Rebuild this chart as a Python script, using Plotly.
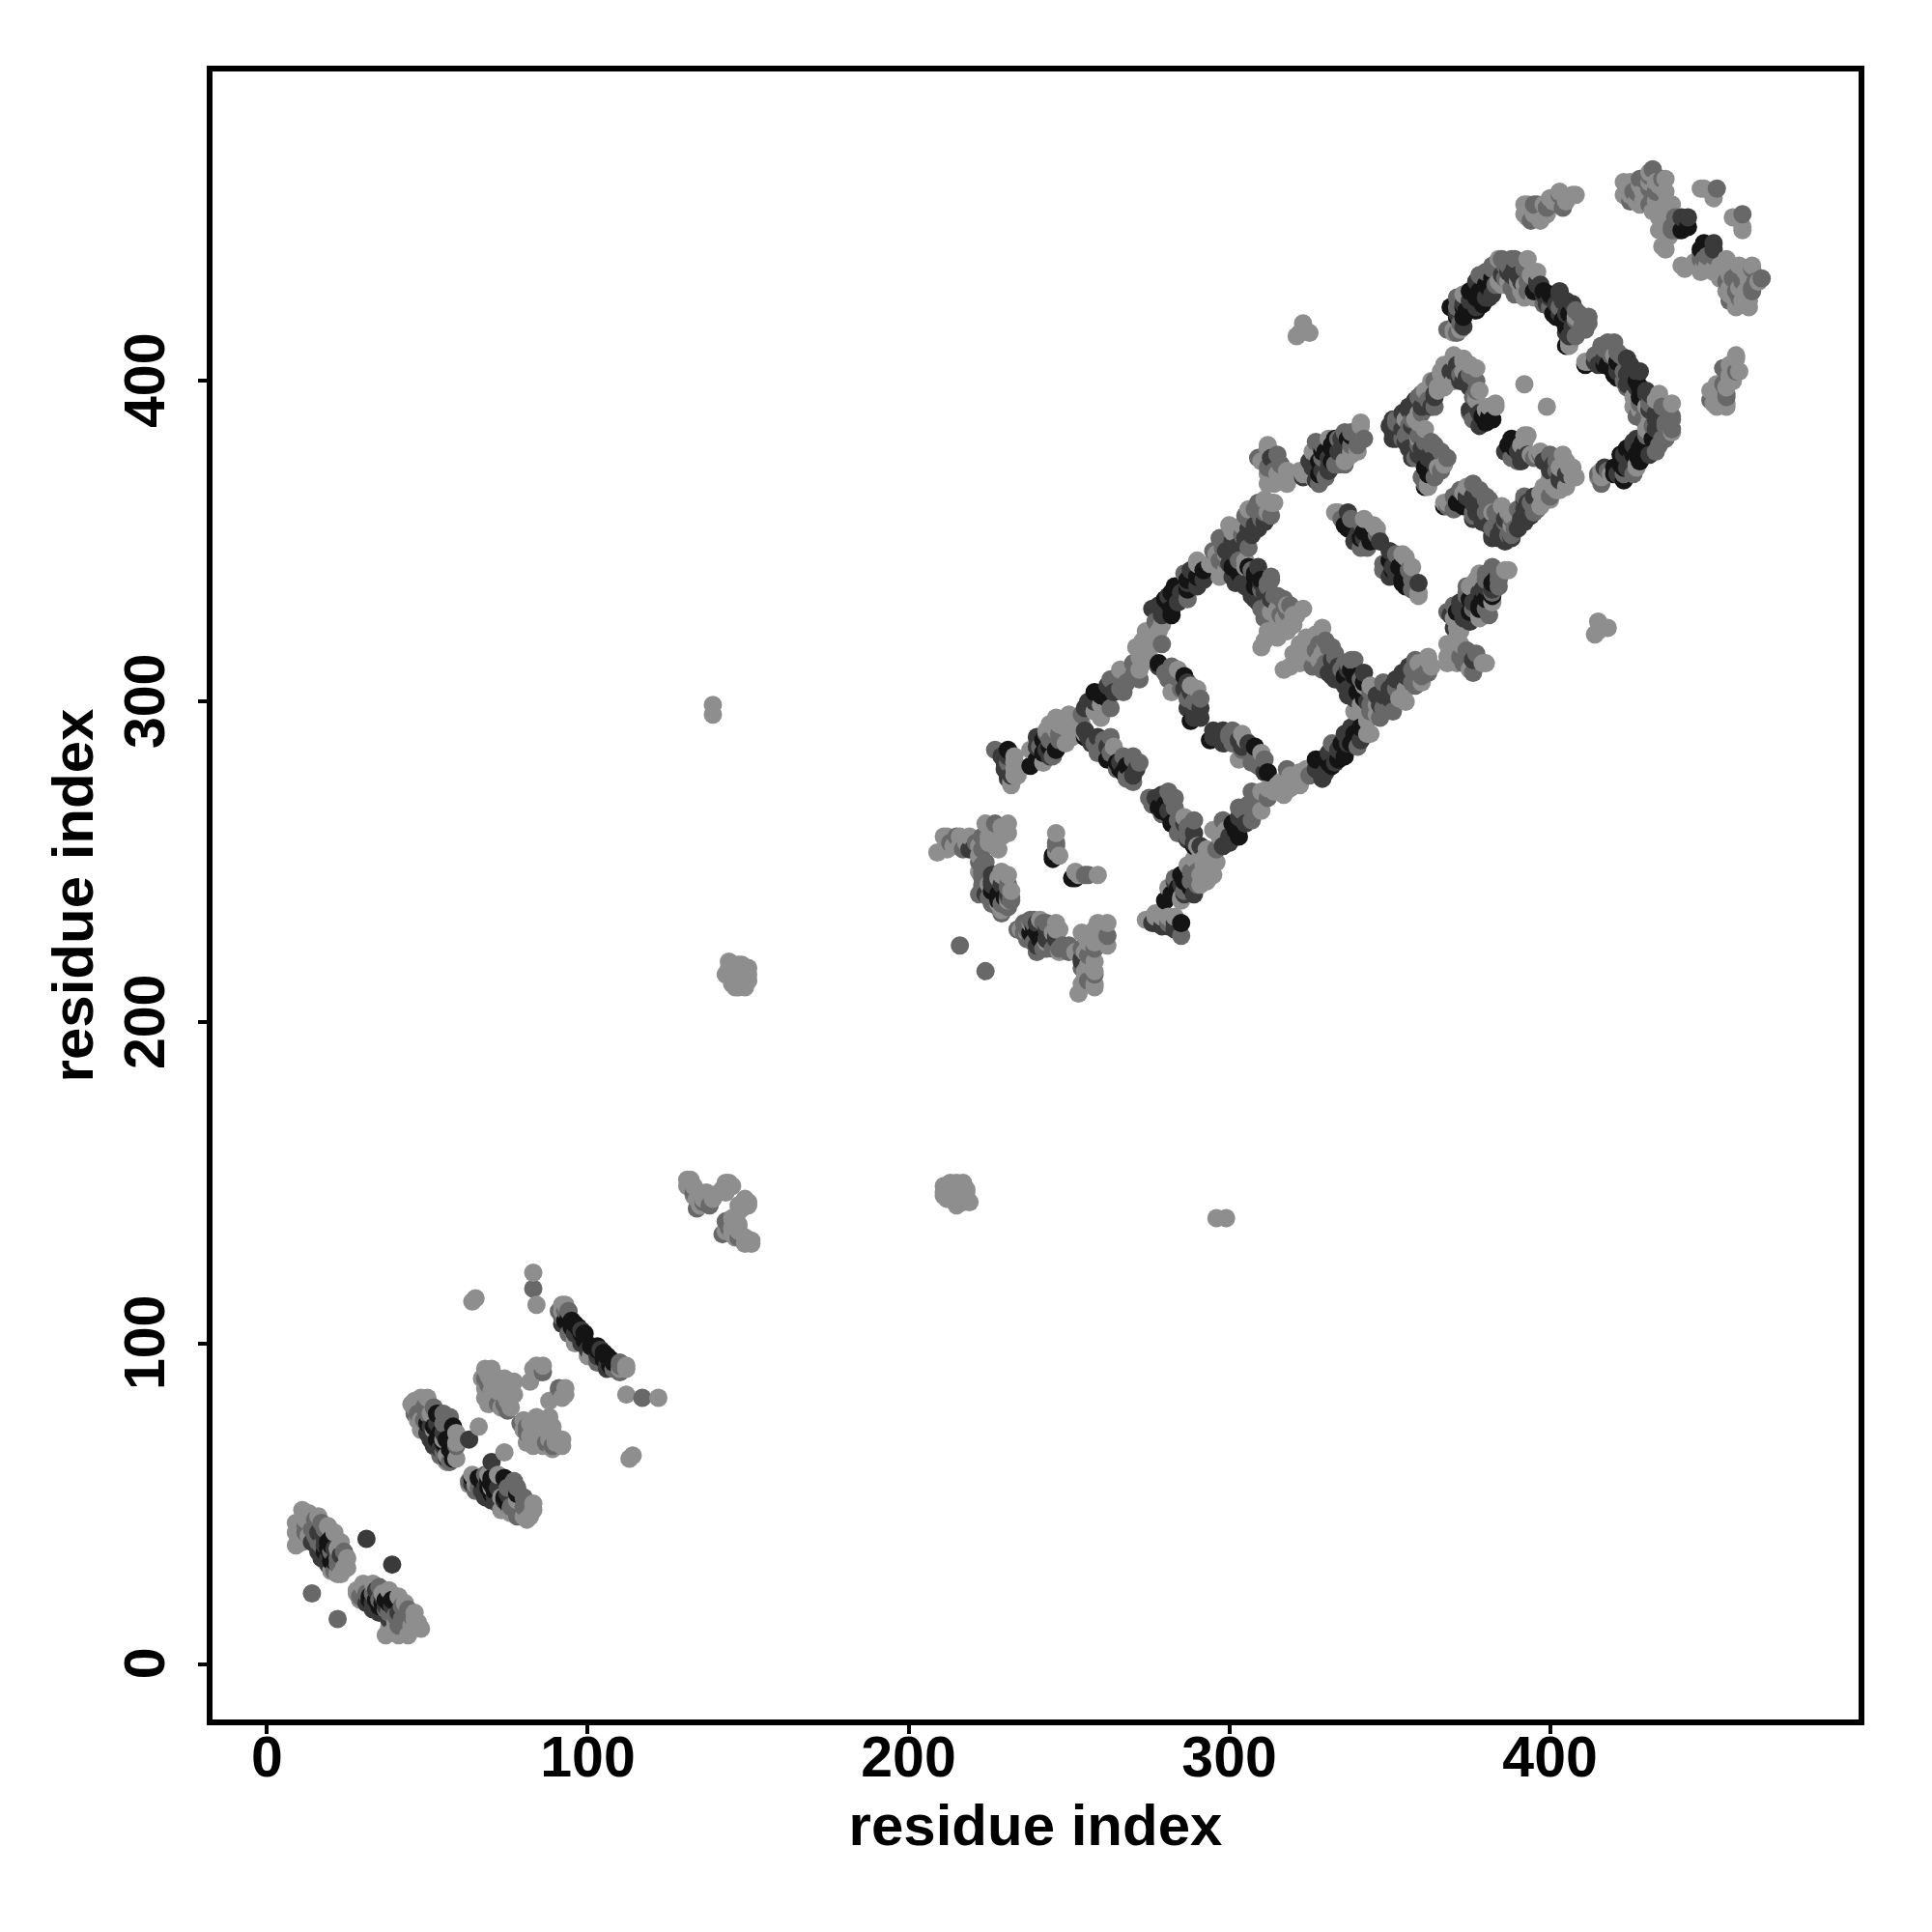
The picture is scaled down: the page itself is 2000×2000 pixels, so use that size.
import plotly.graph_objects as go

tick_values = [0, 100, 200, 300, 400]
x_tick_labels = ["0", "100", "200", "300", "400"]
y_tick_labels = ["0\u00a0", "100\u00a0", "200\u00a0", "300\u00a0", "400\u00a0"]
axis_title = "residue index"

black_contacts = [(19,38),(19,36),(20,34),(21,32),(18,35),(20,32),(20,37),(20,39),(53,78),(58,70),(54,72),(56,70),(57,67),(58,66),(57,70),(53,70),(58,74),(50,75),(52,74),(57,69),(55,69),(58,64),(54,71),
 (94,108),(95,107),(96,106),(97,105),(95,105),(93,107),(98,103),(103,99),(99,101),
 (231,285),(242,284),(242,288),(255,289),(262,282),(266,279),(278,267),(240,228),(245,252),(251,245),(230,239),(285,231),(285,246),(280,238),(302,260),(329,282),(332,280),(336,283),(339,290),(278,312),(286,308),(288,294),(308,286),(308,340),(336,355),(344,350),(351,341),(354,337),(329,378),(328,371),(333,382),(337,382),(362,372),(361,367),(371,362),(339,308),(342,301),(387,380),(378,330),(383,338),(369,423),(373,423),(377,427),(377,430),(380,430),(395,428),(398,428),(401,421),(405,418),(405,411),(419,404),(429,381),(422,377),(426,377),(422,374),(420,371),(380,388),(389,381),(443,448),(447,441),
 (280,268),(283,263),(265,281),(240,282),(244,286),(228,240),(241,226),(238,228),(303,258),(301,262),(327,282),(331,281),(334,282),(335,287),(338,287),(341,292),(336,308),(340,303),(306,342),(310,338),(328,375),(332,380),(375,332),(379,332),(338,354),(342,353),(375,428),(379,428),(382,432),(402,420),(417,405),(421,406),(427,400),(428,378),(424,379),(420,373),(362,374),(379,389),(382,388),(373,361)]

dark_contacts = [(16,41),(18,39),(17,33),(21,36),(19,31),(23,34),(31,39),(14,38),(16,35),(19,33),(18,37),(50,72),(63,70),(53,75),(52,68),(55,68),(51,74),(51,70),(55,72),(52,71),(56,64),(54,67),
 (93,106),(96,103),(100,98),(92,106),(101,99),(98,104),
 (238,280),(246,285),(230,279),(230,281),(271,279),(226,246),(246,227),(219,254),(277,232),(285,243),(289,256),(279,271),(300,256),(303,264),(329,276),(336,290),(289,259),(295,289),(304,286),(311,278),(289,296),(304,337),(307,333),(308,355),(305,351),(300,343),(332,313),(332,308),(336,305),(339,301),(350,304),(354,309),(376,313),(373,327),(378,334),(337,359),(340,352),(359,337),(351,382),(357,376),(362,376),(376,364),(379,356),(382,352),(391,357),(396,364),(392,377),(326,373),(335,379),(377,423),(381,426),(387,434),(396,431),(403,428),(407,424),(415,405),(424,407),(427,403),(427,398),(430,396),(433,388),(433,385),(426,380),(431,377),(369,403),(372,400),(364,395),(356,391),(352,384),(355,381),(359,377),(363,378),(376,392),(393,377),(400,373),(403,369),(392,363),(392,356),(388,351),(384,351),(376,363),(443,451),(451,441),
 (277,270),(281,266),(286,262),(257,287),(255,291),(268,280),(229,283),(231,283),(231,277),(240,286),(244,283),(240,289),(226,244),(224,240),(220,254),(243,229),(243,226),(240,231),(276,231),(298,255),(305,262),(300,258),(327,279),(330,278),(333,281),(331,284),(334,285),(337,287),(338,292),(341,288),(334,311),(337,310),(337,302),(350,301),(352,307),(355,308),(348,302),(372,329),(372,331),(380,336),(307,339),(309,342),(309,331),(323,370),(325,375),(327,369),(331,373),(331,376),(335,382),(299,347),(302,346),(306,354),(311,356),(342,351),(347,350),(339,350),(371,421),(375,425),(389,435),(397,430),(400,426),(404,425),(405,421),(414,406),(417,407),(421,403),(425,405),(424,402),(424,399),(431,391),(433,390),(427,382),(424,373),(417,373),(370,403),(374,401),(362,393),(360,392),(358,392),(354,385),(357,386),(360,379),(378,390),(378,386),(389,379),(391,375),(398,375),(405,371),(394,358),(390,354),(386,350),(378,361),(374,364),(287,306),(288,303),(291,298),(291,295),(287,298)]

mid_contacts = [(15,45),(14,42),(17,37),(20,35),(22,31),(14,22),(17,44),(12,41),(12,43),(15,40),(16,38),(18,42),(22,33),(21,29),(24,35),(57,77),(47,78),(50,78),(57,63),(54,65),(55,75),(46,78),(75,79),(49,80),(49,76),(55,66),(59,68),(52,80),(55,78),
 (68,89),(69,87),(72,81),(74,81),(83,117),(86,91),(93,110),(92,108),(94,103),(91,110),(94,110),(134,142),(136,144),(133,147),(138,143),(216,224),
 (227,285),(259,289),(259,285),(267,283),(270,283),(269,276),(275,270),(282,270),(283,267),(285,260),(289,263),(215,258),(227,262),(223,258),(223,254),(222,250),(223,246),(231,243),(223,242),(226,238),(232,239),(234,229),(238,232),(237,226),(242,231),(242,223),(245,223),(249,223),(246,256),(255,246),(281,231),(285,227),(288,247),(296,254),(298,263),(307,263),(303,267),(307,272),(325,277),(318,279),(332,287),(340,286),(350,298),(357,306),(358,313),(362,310),(372,314),(376,309),(370,330),(374,333),(382,334),(382,342),(282,311),(281,307),(285,304),(289,300),(300,290),(311,282),(297,351),(297,344),(305,358),(309,362),(312,337),(317,332),(310,329),(331,317),(336,312),(341,356),(346,352),(348,341),(352,346),(356,341),(363,380),(342,382),(334,374),(376,368),(376,359),(380,364),(387,352),(397,377),
 (368,416),(380,434),(388,438),(398,424),(403,423),(412,420),(410,417),(420,412),(416,411),(423,400),(429,388),(438,389),(438,385),(434,380),(423,371),(415,371),
 (377,400),(359,395),(364,392),(352,388),(359,383),(363,381),(361,368),(376,388),(389,377),(400,377),(383,355),(381,363),(372,366),(376,358),(400,364),(396,360),
 (395,455),(403,458),(428,463),(427,459),(432,466),(439,451),(440,447),(452,460),(460,452),(454,404),(454,399),(455,396),(450,394),(459,434),(463,435),(455,431),(463,429),(458,428),(460,431),(447,438),(466,432),
 (279,265),(284,259),(287,258),(288,261),(276,268),(261,287),(263,284),(268,277),(272,281),(243,290),(224,250),(224,248),(229,243),(229,237),(213,256),(217,254),(221,256),(236,228),(236,231),(239,231),(239,225),(240,222),(247,223),(243,223),(283,245),(286,241),(288,244),(290,247),(304,266),(306,268),(308,270),(312,270),(348,298),(352,304),(357,310),(360,308),(374,316),(373,312),(377,315),(368,328),(375,325),(376,329),(384,336),(384,340),(380,340),(380,329),(310,335),(313,339),(312,330),(314,333),(318,328),(311,326),(330,319),(327,316),(333,315),(338,313),(341,307),(344,303),(344,299),(334,378),(336,374),(338,380),(327,381),(338,384),(335,357),(338,357),(343,348),(378,433),(382,436),(386,436),(386,432),(389,427),(393,428),(400,423),(408,422),(408,419),(412,418),(406,414),(414,408),(418,411),(421,409),(428,393),(431,393),(435,392),(436,387),(430,383),(435,382),(426,371),(418,372),(428,375),(433,378),(354,389),(357,388),(361,381),(364,376),(360,370),(375,390),(395,376),(402,375),(402,372),(394,362),(390,360),(386,356),(382,354),(380,359),(378,366),(370,364),(425,456),(433,459),(438,448),(449,439),(457,432),(459,426),(464,431),(280,309),(283,308),(287,301),(291,301),(295,347),(306,348),(311,359)]

light_contacts = [(11,48),(13,47),(9,44),(9,41),(9,37),(11,38),(13,40),(24,30),(19,43),(23,38),(22,28),(20,29),(25,30),(10,39),(12,45),(14,46),(16,46),(21,41),(22,36),(25,33),(23,28),
 (46,82),(50,83),(46,80),(58,74),(58,66),(66,74),(48,76),(52,73),(56,65),(55,70),(45,81),(48,83),(47,76),(59,72),(59,69),(59,64),(56,63),(48,73),(51,78),
 (68,92),(72,89),(76,86),(75,82),(73,80),(68,86),(68,83),(70,85),(74,84),(71,82),(86,93),(83,92),(82,88),(85,91),(69,90),(70,88),(73,87),(74,89),(77,84),(77,88),(69,81),(72,85),(76,80),(70,92),(67,89),(71,86),(84,93),
 (65,114),(64,113),(83,122),(84,112),(92,112),(92,110),(96,100),(93,112),(96,101),
 (132,151),(133,149),(136,145),(137,147),(135,143),(144,150),(142,148),(136,146),(139,145),(131,149),(133,146),(135,147),(131,151),(134,145),(143,150),(145,149),(141,147),(143,147),
 (144,219),(143,215),(150,217),(149,211),(147,214),(145,212),(148,218),(146,216),(145,216),(146,213),(148,213),(146,211),(147,211),(148,215),(149,214),(144,217),(145,218),(147,218),(149,216),(150,213),(150,215),(139,299),(139,296),(322,415),(323,418),(325,415),(321,414),
 (233,281),(233,277),(232,275),(238,285),(242,281),(246,291),(244,293),(246,295),(263,289),(264,286),(209,253),(211,258),(214,255),(219,258),(224,262),(231,262),(231,259),(227,255),(231,246),(226,241),(229,235),(246,259),(246,253),(252,247),(259,246),(274,232),(281,233),(281,242),(285,239),(291,243),(294,246),(292,251),(290,255),(295,260),(310,266),(310,272),(314,272),(317,271),(321,276),(324,279),(343,290),(343,294),(339,297),(346,296),(353,301),(362,314),(368,314),(372,318),(379,312),(368,318),(372,322),(370,326),(378,327),(382,331),(378,338),(387,341),(290,304),(304,290),(303,282),(290,344),(305,344),(315,326),(323,329),(319,324),(314,321),(310,317),(329,323),(324,320),(320,315),(317,310),(328,313),(342,305),(333,359),(345,355),(341,348),(355,345),(359,334),(312,380),(309,376),(312,371),(315,371),(318,372),(312,368),(326,378),(330,370),(338,377),(368,376),(365,373),(362,368),(368,362),(372,366),(382,359),(387,359),(300,355),(313,362),
 (370,416),(371,419),(373,427),(384,438),(384,431),(393,438),(396,434),(391,428),(387,431),(407,417),(406,412),(411,406),(420,408),(434,396),(438,393),(426,392),(430,385),(427,374),(415,370),
 (370,407),(373,406),(377,404),(373,403),(366,402),(369,400),(363,400),(377,396),(359,390),(355,388),(381,392),(383,392),(392,399),(399,392),(393,383),(397,378),(404,377),(407,373),(408,370),(400,370),(403,366),(388,358),(376,368),(367,362),
 (392,455),(393,451),(397,450),(398,455),(403,459),(407,458),(404,454),(423,462),(423,458),(427,456),(436,463),(431,462),(436,459),(436,455),(435,451),(436,448),(436,441),(442,435),(447,460),(451,457),(457,451),(460,448),(447,434),(451,434),(455,428),(458,425),(462,425),(458,408),(459,403),(450,397),(455,393),
 (286,264),(252,291),(247,288),(247,293),(249,295),(251,294),(249,292),(212,254),(212,258),(216,258),(216,255),(218,256),(226,260),(229,261),(229,258),(225,258),(225,256),(228,254),(222,255),(229,247),(228,245),(225,243),(222,247),(222,252),(232,241),(228,237),(231,238),(246,229),(277,234),(279,233),(283,233),(293,248),(296,250),(293,254),(297,258),(299,260),(312,273),(315,274),(319,273),(320,275),(322,274),(318,276),(316,275),(322,278),(319,277),(293,245),(287,249),(289,251),(346,299),(355,304),(359,312),(370,316),(375,310),(371,325),(375,336),(315,329),(318,330),(320,327),(317,326),(316,323),(312,322),(311,319),(322,318),(325,316),(327,321),(329,315),(341,299),(316,369),(320,371),(323,371),(340,378),(341,386),(342,357),(346,354),(372,416),(390,431),(394,433),(392,430),(426,395),(367,405),(371,405),(375,405),(367,398),(365,397),(361,397),(361,385),(377,394),(391,380),(405,375),(401,367),(398,365),(374,367),(425,460),(429,459),(429,456),(431,465),(433,462),(433,456),(438,455),(437,445),(449,436),(453,436),(453,432),(456,429),(461,434),(461,428),(393,453),(395,452),(400,457),(402,456),(405,457),(456,405),(456,401),(452,392),(452,399),(284,310),(288,305),(306,360),(311,363)]

shades = [(black_contacts, "#141414"), (dark_contacts, "#3a3a3a"), (mid_contacts, "#686868"), (light_contacts, "#8e8e8e")]

# the map is symmetric; marks are laid down by increasing residue index, as in the reference
colour_of = {}
for contacts, colour in shades:
    for a, b in contacts:
        colour_of.setdefault((a, b), colour)
        colour_of.setdefault((b, a), colour)
ordered = sorted(colour_of)

fig = go.Figure(go.Scatter(x=[p[0] for p in ordered], y=[p[1] for p in ordered], mode="markers",
                           showlegend=False, hoverinfo="skip",
                           marker=dict(size=19, color=[colour_of[p] for p in ordered], line=dict(width=0))))

tick_font = dict(family="Liberation Sans, Arial, sans-serif", size=59, color="black", weight=700)
title_font = dict(family="Liberation Sans, Arial, sans-serif", size=60, color="black", weight=700)
axis = dict(tickmode="array", tickvals=tick_values, ticks="outside", ticklen=9, tickwidth=4, tickcolor="black",
            showline=True, linecolor="black", linewidth=6, mirror=True, showgrid=False, zeroline=False,
            tickfont=tick_font)
fig.update_xaxes(range=[-17.0, 496.2], ticktext=x_tick_labels, ticklabelstandoff=-27, title=dict(text=axis_title, font=title_font, standoff=19), **axis)
fig.update_yaxes(range=[-17.3, 496.5], ticktext=y_tick_labels, ticklabelstandoff=11, tickangle=-90, title=dict(text=axis_title, font=title_font, standoff=3), **axis)
fig.update_layout(width=1992, height=1992, autosize=False, plot_bgcolor="white", paper_bgcolor="white",
                  margin=dict(l=211.5, r=75.5, t=65.5, b=219.5, pad=0))
fig.write_html("out.html")
